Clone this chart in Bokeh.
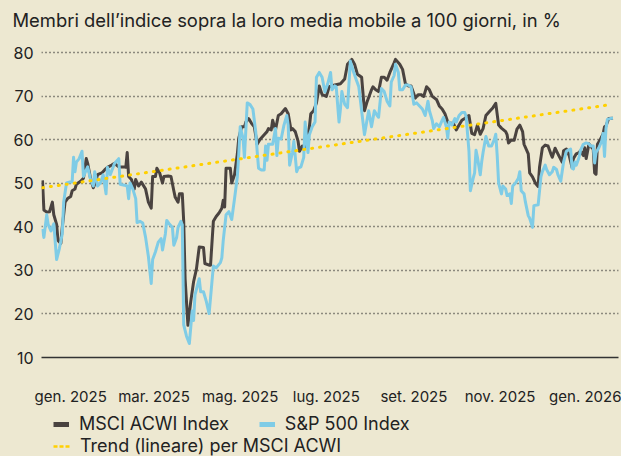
import pandas as pd
from bokeh.plotting import figure
from bokeh.layouts import column
from bokeh.models import (Range1d, FixedTicker, Legend, LegendItem, Title,
                          ColumnDataSource)
from bokeh.embed import file_html
from bokeh.resources import INLINE

# ---------------- data (days since 2025-01-01, % of members above 100d MA) -------------
base_date = "2025-01-01"

msci_day = [-20, -19, -17, -15, -13, -12, -10, -9, -7, -6, -4, -2, 0, 1, 3, 4, 7, 9, 11, 12,
            14, 16, 17, 19, 22, 24, 26, 29, 31, 34, 38, 39, 40, 41, 43, 45, 46, 48, 50, 53,
            55, 57, 58, 60, 61, 63, 65, 66, 69, 71, 73, 74, 76, 77, 79, 80, 81, 83, 85, 87,
            89, 91, 94, 95, 98, 99, 101, 103, 105, 107, 108, 109, 110, 113, 114, 116, 118, 119, 121, 123,
            124, 126, 128, 130, 132, 134, 137, 139, 140, 142, 143, 145, 147, 149, 152, 154, 156, 157, 159, 161,
            162, 164, 165, 167, 169, 170, 172, 174, 176, 178, 181, 183, 187, 191, 194, 196, 199, 201, 203, 206,
            208, 210, 213, 214, 216, 218, 220, 222, 224, 226, 229, 230, 233, 235, 237, 239, 241, 244, 246, 248,
            250, 252, 254, 256, 259, 261, 263, 265, 267, 269, 271, 273, 275, 277, 279, 282, 284, 286, 288, 290,
            292, 294, 297, 299, 301, 303, 305, 308, 309, 310, 312, 314, 316, 318, 320, 321, 324, 325, 327, 329,
            331, 332, 334, 336, 338, 340, 341, 343, 345, 348, 349, 351, 353, 355, 356, 358, 360, 361, 363, 364,
            365, 367, 369, 370, 371, 372, 373, 375, 377, 378, 379, 381, 384]
msci_val = [50.7, 43.9, 43.4, 43.5, 45.7, 42.8, 40.6, 36.9, 36.2, 39.9, 45.7, 46.6, 47.0, 48.3, 48.7, 49.8, 50.5, 51.2, 55.7, 54.6,
            51.2, 49.0, 49.8, 52.0, 52.4, 53.1, 53.7, 54.2, 54.6, 53.8, 53.8, 53.7, 57.1, 51.6, 50.9, 48.7, 50.9, 49.4, 50.3, 48.7,
            45.7, 44.3, 51.6, 51.6, 53.5, 52.4, 50.1, 51.6, 51.7, 51.6, 48.3, 46.8, 45.7, 47.6, 47.6, 41.3, 28.1, 17.4, 22.9, 27.4,
            30.3, 35.4, 35.3, 31.6, 31.2, 31.2, 41.3, 42.4, 43.2, 44.3, 46.1, 44.6, 53.5, 53.5, 50.1, 52.0, 56.8, 60.4, 63.0, 63.0,
            64.1, 64.9, 63.8, 63.0, 59.0, 60.1, 61.2, 61.9, 62.6, 62.3, 64.5, 62.3, 65.6, 66.0, 67.2, 66.0, 62.3, 62.6, 61.9, 59.7,
            57.4, 58.6, 57.9, 59.0, 63.0, 66.0, 66.7, 68.5, 72.4, 70.4, 70.0, 72.2, 72.6, 72.9, 74.0, 77.4, 78.5, 77.4, 75.1, 74.4,
            66.7, 68.9, 71.5, 72.2, 71.5, 71.1, 74.4, 74.4, 73.7, 75.5, 77.7, 78.5, 77.4, 76.2, 72.9, 72.4, 72.4, 69.6, 70.4, 70.4,
            70.0, 72.2, 71.5, 70.0, 69.3, 67.8, 67.1, 66.0, 64.1, 63.8, 63.8, 62.3, 63.4, 64.5, 64.9, 65.6, 61.5, 61.2, 63.4, 61.3,
            62.6, 65.6, 66.7, 67.4, 68.4, 63.4, 62.7, 61.9, 61.2, 59.3, 60.0, 59.9, 62.5, 63.4, 61.9, 59.0, 56.8, 52.4, 51.5, 50.1,
            49.3, 53.8, 58.2, 58.8, 58.6, 56.8, 56.0, 58.1, 56.8, 54.9, 57.5, 57.9, 56.4, 53.7, 55.7, 56.8, 57.1, 57.5, 56.4, 58.2,
            55.7, 59.1, 58.2, 57.9, 52.4, 52.1, 59.0, 60.1, 61.4, 63.0, 63.2, 64.9, 65.0]

spx_day = [-20, -19, -17, -16, -14, -12, -10, -8, -6, -5, -3, -1, 1, 2, 3, 4, 6, 8, 9, 11,
           12, 14, 16, 17, 19, 21, 23, 25, 26, 28, 31, 33, 34, 35, 38, 40, 41, 42, 44, 46,
           47, 49, 51, 53, 55, 57, 58, 60, 62, 64, 65, 67, 68, 70, 72, 73, 75, 76, 78, 79,
           80, 82, 84, 86, 87, 88, 91, 92, 94, 96, 98, 100, 101, 103, 106, 107, 108, 110, 112, 114,
           116, 118, 119, 120, 122, 123, 125, 127, 129, 131, 132, 133, 135, 137, 138, 139, 140, 142, 143, 145,
           146, 147, 149, 151, 153, 154, 155, 157, 158, 160, 161, 163, 165, 166, 168, 169, 171, 173, 174, 176,
           178, 180, 182, 184, 185, 187, 188, 190, 191, 192, 194, 196, 198, 200, 202, 204, 206, 208, 210, 211,
           213, 215, 217, 218, 220, 222, 224, 226, 227, 229, 230, 232, 233, 235, 237, 239, 241, 243, 245, 247,
           249, 251, 253, 254, 256, 257, 259, 261, 263, 264, 266, 267, 268, 270, 272, 273, 275, 277, 279, 280,
           282, 283, 285, 286, 287, 288, 290, 291, 292, 294, 296, 298, 300, 301, 302, 303, 305, 306, 308, 309,
           311, 312, 313, 315, 317, 318, 319, 321, 322, 324, 325, 327, 328, 331, 333, 334, 336, 337, 339, 341,
           342, 344, 345, 347, 349, 351, 352, 354, 355, 356, 357, 358, 360, 361, 363, 365, 367, 368, 370, 371,
           372, 374, 376, 377, 378, 379, 380, 383, 384]
spx_val = [39.5, 37.6, 42.8, 40.6, 39.1, 40.7, 32.5, 35.1, 38.4, 45.7, 50.1, 50.3, 50.3, 56.0, 52.7, 54.9, 55.7, 57.4, 51.6, 53.1,
           53.8, 51.0, 49.4, 52.7, 49.4, 50.1, 52.0, 47.6, 53.7, 52.0, 54.6, 55.3, 55.7, 49.8, 49.6, 49.4, 46.5, 50.1, 48.7, 46.5,
           41.0, 41.3, 40.9, 37.6, 33.2, 27.0, 32.5, 34.3, 36.5, 37.3, 34.7, 38.4, 41.5, 40.6, 39.9, 35.8, 37.6, 39.9, 41.3, 40.5,
           17.5, 14.9, 13.2, 20.7, 18.5, 24.4, 28.1, 25.1, 25.1, 22.9, 20.1, 27.4, 31.0, 30.6, 31.8, 32.9, 36.9, 42.8, 43.5, 41.7,
           46.5, 51.6, 56.8, 63.0, 60.4, 56.0, 68.5, 68.1, 67.1, 61.9, 57.5, 53.5, 53.1, 53.1, 58.6, 55.3, 59.0, 59.0, 59.0, 62.6,
           56.4, 60.4, 60.2, 63.4, 65.6, 63.4, 54.2, 57.1, 59.7, 52.7, 53.5, 53.8, 56.0, 64.1, 57.1, 61.2, 63.0, 64.1, 74.4, 75.5,
           74.4, 71.0, 72.9, 75.5, 71.5, 72.4, 72.2, 64.1, 67.1, 71.1, 68.2, 67.4, 78.1, 75.9, 74.0, 72.2, 66.7, 61.2, 64.9, 66.7,
           63.0, 66.7, 65.6, 65.2, 71.8, 71.1, 68.9, 67.8, 73.3, 74.8, 77.4, 75.5, 71.5, 71.5, 72.6, 72.6, 72.2, 68.2, 68.5, 67.8,
           67.1, 65.6, 68.9, 66.7, 64.5, 62.6, 63.7, 63.0, 64.5, 65.2, 63.0, 60.4, 64.1, 63.4, 64.9, 64.1, 65.6, 66.3, 66.3, 65.4,
           57.5, 48.3, 51.2, 52.4, 57.6, 56.0, 52.0, 54.9, 57.1, 60.8, 58.6, 58.6, 60.1, 61.3, 56.4, 50.1, 47.6, 49.4, 48.7, 47.2,
           47.6, 45.4, 49.4, 50.1, 51.2, 52.7, 48.3, 47.6, 45.7, 42.6, 42.0, 39.9, 44.9, 45.1, 51.6, 52.7, 54.2, 53.2, 52.0, 52.7,
           53.7, 53.2, 52.0, 50.5, 54.9, 57.4, 57.6, 57.9, 53.5, 53.3, 54.9, 54.2, 56.0, 57.6, 59.0, 59.3, 59.1, 58.6, 58.6, 54.7,
           57.1, 58.2, 59.7, 61.5, 56.2, 62.5, 64.7, 65.0, 65.0]

trend_day = [-20, 380]
trend_val = [49.0, 68.0]

tick_dates = ["2025-01-01", "2025-03-01", "2025-05-01", "2025-07-01",
              "2025-09-01", "2025-11-01", "2026-01-01"]
tick_labels = ["gen. 2025", "mar. 2025", "mag. 2025", "lug. 2025",
               "set. 2025", "nov. 2025", "gen. 2026"]
y_ticks = [10, 20, 30, 40, 50, 60, 70, 80]

title_text = "Membri dell\u2019indice sopra la loro media mobile a 100 giorni, in %"
names = ["MSCI ACWI Index", "S&P 500 Index", "Trend (lineare) per MSCI ACWI"]

# ---------------- styling -------------
BG = "#EDE8D1"
DARK = "#4A4340"
BLUE = "#7FCCE6"
YELLOW = "#FFD000"
TXT = "#222222"
FONT = "Inter"
W = 621


def strip(height):
    f = figure(width=W, height=height, output_backend="svg", toolbar_location=None,
               x_range=Range1d(0, 1), y_range=Range1d(0, 1),
               x_axis_location=None, y_axis_location=None,
               min_border_left=41, min_border_right=3, min_border_top=0,
               min_border_bottom=0)
    f.background_fill_color = BG
    f.border_fill_color = BG
    f.outline_line_color = None
    f.xgrid.visible = False
    f.ygrid.visible = False
    return f


# ---------------- title strip -------------
tf = strip(40)
tf.title = Title(text=title_text, align="left", offset=-29, standoff=13,
                 text_font=FONT, text_font_size="18.4px", text_color=TXT,
                 text_font_style="normal")

# ---------------- main chart -------------
base = pd.Timestamp(base_date)
x_ticks = [int((pd.Timestamp(d) - base).days) for d in tick_dates]

p = figure(width=W, height=368, output_backend="svg", toolbar_location=None,
           x_range=Range1d(-20.7, 387.9), y_range=Range1d(10, 81),
           min_border_left=41, min_border_right=3, min_border_top=8,
           min_border_bottom=48)
p.background_fill_color = BG
p.border_fill_color = BG
p.outline_line_color = None

src_m = ColumnDataSource(dict(x=msci_day, y=msci_val))
src_s = ColumnDataSource(dict(x=spx_day, y=spx_val))
src_t = ColumnDataSource(dict(x=trend_day, y=trend_val))

p.line("x", "y", source=src_m, line_color=DARK, line_width=3, line_join="round")
p.line("x", "y", source=src_s, line_color=BLUE, line_width=3, line_join="round")
p.line("x", "y", source=src_t, line_color=YELLOW, line_width=3,
       line_dash="1 7", line_cap="round")

xa = p.xaxis[0]
xa.ticker = FixedTicker(ticks=x_ticks)
xa.major_label_overrides = {t: lab for t, lab in zip(x_ticks, tick_labels)}
xa.major_tick_in = 0
xa.major_tick_out = 0
xa.minor_tick_in = 0
xa.minor_tick_out = 0
xa.axis_line_color = "#333333"
xa.axis_line_width = 1.4
xa.major_label_standoff = 29
xa.major_label_text_font = FONT
xa.major_label_text_font_size = "15px"
xa.major_label_text_color = TXT

ya = p.yaxis[0]
ya.ticker = FixedTicker(ticks=y_ticks)
ya.axis_line_color = None
ya.major_tick_in = 0
ya.major_tick_out = 0
ya.minor_tick_in = 0
ya.minor_tick_out = 0
ya.major_label_standoff = 8
ya.major_label_text_font = FONT
ya.major_label_text_font_size = "16px"
ya.major_label_text_color = TXT

p.xgrid.grid_line_color = None
p.ygrid.ticker = FixedTicker(ticks=y_ticks[1:])
p.ygrid.grid_line_color = "#2a2a2a"
p.ygrid.grid_line_width = 1.4
p.ygrid.grid_line_dash = "1 3"

# ---------------- legend strip -------------
lf = strip(48)
# legend swatch proxies, placed outside the strip's visible range
l_m = lf.line(x=[5, 6], y=[5, 6], line_color=DARK, line_width=5)
l_s = lf.line(x=[5, 6], y=[5, 6], line_color=BLUE, line_width=5)
l_t = lf.line(x=[5, 6], y=[5, 6], line_color=YELLOW, line_width=2.5, line_dash="4 2")


def mk_legend(items, loc):
    lg = Legend(items=items, location=loc, orientation="horizontal")
    lg.padding = 0
    lg.margin = 0
    lg.spacing = 30
    lg.glyph_width = 16
    lg.glyph_height = 18
    lg.label_height = 18
    lg.label_standoff = 10
    lg.label_text_font = FONT
    lg.label_text_font_size = "18px"
    lg.label_text_color = TXT
    lg.background_fill_alpha = 0
    lg.border_line_alpha = 0
    return lg


leg1 = mk_legend([LegendItem(label=names[0], renderers=[l_m]),
                  LegendItem(label=names[1], renderers=[l_s])], (12, 22))
leg2 = mk_legend([LegendItem(label=names[2], renderers=[l_t])], (12, 0))
leg2.glyph_width = 17
lf.add_layout(leg1)
lf.add_layout(leg2)

layout = column(tf, p, lf, spacing=0)
layout.styles = {"background-color": BG}
open("out.html", "w").write(file_html(layout, INLINE))
